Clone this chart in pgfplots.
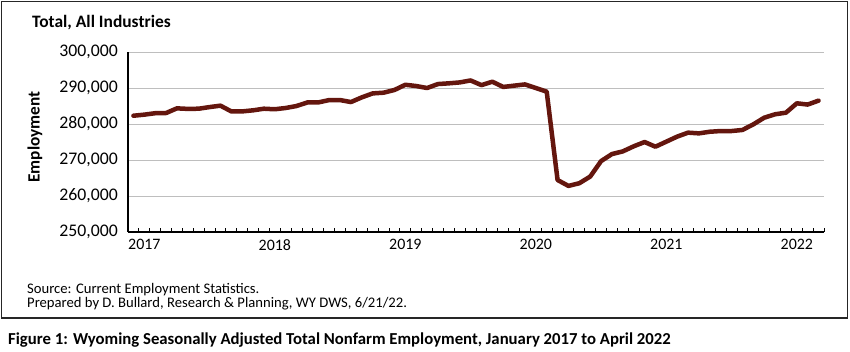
\documentclass[border=0pt]{standalone}
\usepackage{fontspec}
\setmainfont{Carlito}
\usepackage{pgfplots}
\pgfplotsset{compat=1.18}
\definecolor{emp}{RGB}{100,22,14}
\definecolor{gridc}{RGB}{190,190,190}
\begin{document}
\begin{tikzpicture}[x=1bp,y=1bp]
\useasboundingbox (0,0) rectangle (850,-351);
\draw[line width=1.6bp, black!85] (1.5,-1.5) rectangle (847.5,-318);
\node[anchor=west, inner sep=0pt, font=\fontsize{17.5}{19}\selectfont\bfseries] at (32,-23) {Total, All Industries};
\node[rotate=90, inner sep=0pt, font=\fontsize{17.3}{19}\selectfont\bfseries] at (35,-137) {Employment};
\node[anchor=west, inner sep=0pt, font=\fontsize{14.7}{18}\selectfont] at (27,-290) {Source: Current Employment Statistics.};
\node[anchor=west, inner sep=0pt, font=\fontsize{14.7}{18}\selectfont] at (27,-304) {Prepared by D. Bullard, Research \& Planning, WY DWS, 6/21/22.};
\node[anchor=west, inner sep=0pt, font=\fontsize{16.8}{19}\selectfont\bfseries] at (8,-340) {Figure 1: Wyoming Seasonally Adjusted Total Nonfarm Employment, January 2017 to April 2022};
\begin{axis}[
  at={(128bp,-232bp)}, anchor=south west,
  scale only axis, width=696bp, height=180bp,
  xmin=-0.5, xmax=63.5, ymin=250000, ymax=300000,
  axis x line*=bottom, axis y line*=left,
  axis line style={-, black, line width=1.3bp},
  ytick={250000,260000,...,300000},
  ymajorgrids, grid style={gridc, line width=1bp},
  ytick style={draw=none},
  scaled y ticks=false,
  yticklabel style={/pgf/number format/.cd, fixed, precision=0, 1000 sep={,}, assume math mode=true, /tikz/.cd, inner xsep=0pt, xshift=-10bp, font=\fontsize{17.8}{19}\selectfont},
  xtick={-0.5,11.5,23.5,35.5,47.5,59.5},
  xticklabels={2017,2018,2019,2020,2021,2022},
  minor xtick={0.5,1.5,...,63.5},
  tick align=inside,
  major tick length=4bp, minor tick length=4bp,
  xtick style={black, line width=0.8bp},
  minor tick style={black, line width=0.8bp},
  xticklabel style={anchor=north west, inner xsep=0pt, yshift=-4bp, font=\fontsize{16}{19}\selectfont},
  clip=false,
]
\addplot[emp, line width=4.5bp, line join=round, line cap=round] coordinates {
(0,282300) (1,282600) (2,283000) (3,283050) (4,284350) (5,284200) (6,284250) (7,284700)
(8,285100) (9,283500) (10,283500) (11,283800) (12,284250) (13,284100) (14,284450) (15,285000)
(16,286000) (17,286000) (18,286650) (19,286650) (20,286100) (21,287400) (22,288500) (23,288700)
(24,289450) (25,290900) (26,290550) (27,290000) (28,291100) (29,291300) (30,291550) (31,292100)
(32,290800) (33,291750) (34,290300) (35,290650) (36,291000) (37,290000) (38,289000) (39,264450)
(40,262800) (41,263550) (42,265400) (43,269700) (44,271650) (45,272400) (46,273800) (47,275000)
(48,273700) (49,275100) (50,276500) (51,277600) (52,277400) (53,277850) (54,278050) (55,278050)
(56,278350) (57,279900) (58,281750) (59,282700) (60,283150) (61,285750) (62,285400) (63,286500)
};
\end{axis}
\end{tikzpicture}
\end{document}
